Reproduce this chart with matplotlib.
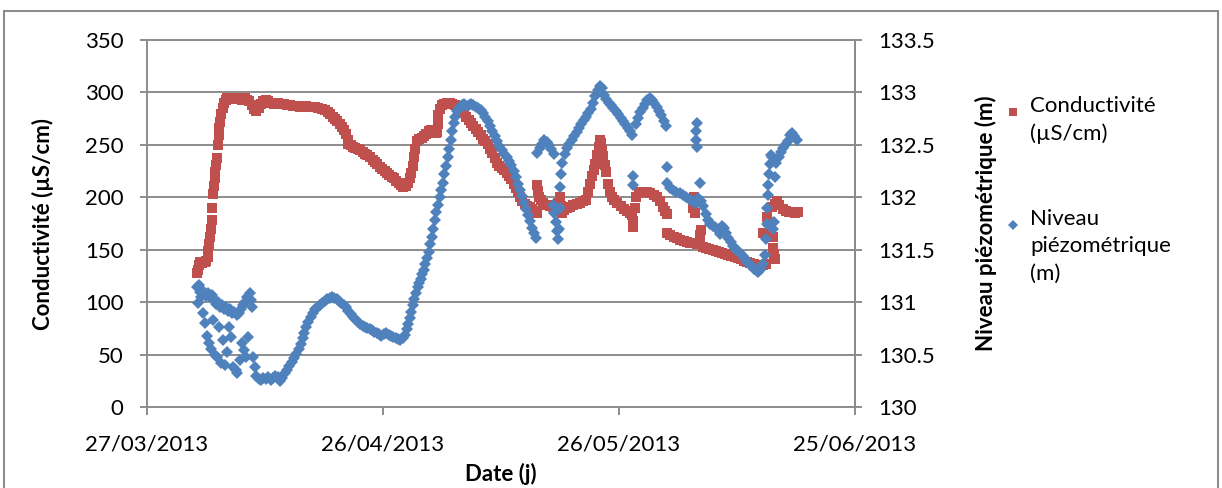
import numpy as np
import pandas as pd
import matplotlib
matplotlib.use("Agg")
import matplotlib.pyplot as plt
import matplotlib.dates as mdates
from matplotlib.lines import Line2D
from matplotlib.patches import Rectangle

plt.rcParams['font.family'] = ['Lato', 'DejaVu Sans']

# days since 27/03/2013
start = pd.Timestamp('2013-03-27')
tick_dates = ['2013-03-27', '2013-04-26', '2013-05-26', '2013-06-25']

# conductivity (uS/cm), left axis
cond_days = [
    6.4, 6.5, 6.6, 6.75, 6.95, 7.15, 7.35, 7.55, 7.7, 7.8,
    7.9, 8.0, 8.1, 8.2, 8.3, 8.4, 8.5, 8.6, 8.7, 8.8,
    8.9, 9.0, 9.1, 9.2, 9.3, 9.45, 9.6, 9.8, 10.0, 10.2,
    10.5, 10.8, 11.1, 11.4, 11.8, 12.1, 12.4, 12.7, 13.0, 13.3,
    13.6, 13.9, 14.2, 14.5, 14.8, 15.1, 15.4, 15.8, 16.2, 16.6,
    17.0, 17.4, 17.8, 18.2, 18.6, 19.0, 19.4, 19.8, 20.2, 20.6,
    21.0, 21.4, 21.8, 22.2, 22.6, 23.0, 23.3, 23.6, 23.9, 24.2,
    24.5, 24.8, 25.1, 25.35, 25.5, 25.6, 25.9, 26.2, 26.5, 26.8,
    27.1, 27.4, 27.7, 28.0, 28.3, 28.7, 29.0, 29.3, 29.6, 29.9,
    30.2, 30.5, 30.8, 31.1, 31.4, 31.7, 32.0, 32.3, 32.6, 32.9,
    33.2, 33.4, 33.6, 33.75, 33.9, 34.05, 34.3, 34.6, 34.9, 35.2,
    35.5, 35.8, 36.1, 36.4, 36.7, 36.85, 36.95, 37.05, 37.2, 37.45,
    37.8, 38.1, 38.5, 38.8, 39.1, 39.4, 39.7, 40.0, 40.3, 40.6,
    40.9, 41.2, 41.5, 41.8, 42.1, 42.4, 42.7, 43.0, 43.3, 43.6,
    43.9, 44.2, 44.5, 44.8, 45.1, 45.4, 45.7, 46.0, 46.3, 46.6,
    46.9, 47.1, 47.4, 47.7, 48.0, 48.3, 48.7, 49.0, 49.3, 49.6,
    49.6, 49.7, 49.85, 50.1, 50.4, 50.8, 51.2, 51.6, 52.0, 52.3,
    52.45, 52.6, 52.75, 53.0, 53.4, 53.8, 54.2, 54.6, 55.0, 55.4,
    55.8, 56.1, 56.3, 56.55, 56.8, 57.0, 57.2, 57.4, 57.55, 57.7,
    57.85, 58.0, 58.2, 58.4, 58.6, 58.8, 59.1, 59.4, 59.8, 60.2,
    60.6, 61.0, 61.4, 61.65, 61.75, 61.8, 62.0, 62.2, 62.5, 62.8,
    63.2, 63.6, 64.0, 64.4, 64.8, 65.2, 65.6, 65.9, 66.1, 66.1,
    66.5, 67.0, 67.4, 67.8, 68.2, 68.6, 69.0, 69.4, 69.5, 69.6,
    69.8, 69.9, 70.3, 70.35, 70.4, 70.7, 71.1, 71.5, 71.9, 72.3,
    72.7, 73.1, 73.5, 73.9, 74.3, 74.7, 75.1, 75.5, 75.9, 76.3,
    76.7, 77.1, 77.5, 77.9, 78.3, 78.7, 78.3, 78.8, 79.0, 79.3,
    79.6, 79.6, 79.7, 79.85, 79.5, 79.8, 80.1, 80.4, 80.8, 81.2,
    81.6, 82.0, 82.4, 82.7,
]
cond = [
    128, 131, 135, 138, 137, 138, 138, 139, 143, 149,
    155, 162, 170, 178, 190, 203, 211, 218, 224, 231,
    237, 250, 259, 266, 272, 279, 285, 290, 293, 295,
    294, 295, 294, 295, 294, 293, 295, 293, 292, 288,
    284, 282, 285, 289, 292, 293, 292, 290, 289, 290,
    289, 289, 288, 288, 287, 287, 286, 287, 287, 286,
    286, 286, 285, 284, 283, 281, 279, 277, 275, 273,
    270, 267, 264, 260, 255, 251, 250, 248, 247, 246,
    245, 243, 241, 240, 238, 236, 234, 232, 229, 227,
    225, 223, 221, 219, 218, 216, 214, 212, 210, 211,
    214, 218, 223, 230, 238, 246, 254, 256, 257, 258,
    260, 263, 264, 263, 261, 262, 270, 278, 284, 288,
    289, 290, 290, 289, 288, 286, 284, 282, 280, 277,
    274, 271, 268, 265, 262, 259, 256, 254, 251, 246,
    242, 237, 233, 230, 228, 226, 223, 220, 217, 213,
    209, 205, 200, 196, 194, 192, 191, 189, 187, 185,
    212, 206, 200, 197, 195, 193, 192, 191, 190, 195,
    200, 192, 185, 188, 190, 191, 193, 194, 195, 196,
    197, 205, 213, 220, 226, 232, 240, 248, 255, 252,
    245, 239, 231, 224, 213, 205, 200, 197, 195, 192,
    189, 187, 185, 183, 177, 172, 190, 200, 204, 205,
    205, 205, 204, 202, 200, 196, 191, 187, 184, 166,
    164, 162, 161, 159, 158, 157, 156, 190, 200, 185,
    196, 155, 158, 164, 169, 153, 152, 151, 150, 149,
    148, 147, 146, 145, 144, 143, 142, 141, 139, 138,
    137, 136, 134, 134, 135, 136, 166, 181, 176, 166,
    162, 152, 146, 141, 191, 194, 196, 193, 189, 187,
    186, 186, 185, 186,
]

# piezometric level (m), right axis
level_days = [
    6.4, 6.5, 6.6, 6.75, 6.9, 7.0, 7.1, 7.25, 7.4, 7.5,
    7.6, 7.7, 7.85, 8.0, 8.1, 8.25, 8.4, 8.5, 8.6, 8.75,
    8.9, 9.0, 9.1, 9.25, 9.4, 9.5, 9.65, 9.8, 9.9, 10.0,
    10.15, 10.3, 10.4, 10.55, 10.7, 10.85, 10.95, 11.1, 11.25, 11.4,
    11.5, 11.65, 11.8, 11.95, 12.05, 12.2, 12.3, 12.45, 12.6, 12.75,
    12.9, 13.05, 13.2, 13.35,
    13.5, 13.7, 13.9, 14.2, 14.5, 14.8, 15.1, 15.4, 15.7, 16.0,
    16.3, 16.6, 16.9, 17.2, 17.5, 17.8, 18.1, 18.4, 18.7, 19.0,
    19.3, 19.55, 19.8, 20.0, 20.25, 20.5, 20.8, 21.1, 21.4, 21.7,
    22.0, 22.3, 22.6, 22.9, 23.2, 23.5, 23.8, 24.1, 24.4, 24.7,
    25.0, 25.3, 25.6, 25.9, 26.2, 26.5, 26.8, 27.1, 27.4, 27.7,
    28.0, 28.3, 28.6, 28.9, 29.2, 29.5, 29.8, 30.1, 30.4, 30.7,
    31.0, 31.3, 31.6, 31.9, 32.2, 32.5, 32.8, 33.0, 33.2, 33.4,
    33.6, 33.8, 34.0, 34.2, 34.4, 34.6, 34.8, 35.0, 35.2, 35.4,
    35.6, 35.8, 36.0, 36.2, 36.4, 36.6, 36.8, 37.0, 37.2, 37.4,
    37.6, 37.8, 38.0, 38.2, 38.4, 38.6, 38.8, 39.0, 39.2, 39.45,
    39.7, 40.0, 40.3, 40.6, 40.9, 41.2, 41.5, 41.8, 42.1, 42.4,
    42.7, 43.0, 43.3, 43.6, 43.9, 44.2, 44.5, 44.8, 45.1, 45.4,
    45.7, 46.0, 46.3, 46.6, 46.9, 47.2, 47.45, 47.7, 47.95, 48.2,
    48.45, 48.7, 48.95, 49.2, 49.4,
    49.6, 49.9, 50.2, 50.5, 50.8, 51.1, 51.4, 51.7, 51.6, 51.8,
    52.0, 52.15, 52.3, 52.4, 52.45, 52.5, 52.6, 52.8, 53.1, 53.4,
    53.7, 54.0, 54.3, 54.6, 54.9, 55.2, 55.5, 55.8, 56.1, 56.4,
    56.7, 57.0, 57.3, 57.6, 57.8, 58.1, 58.4, 58.7, 59.0, 59.3,
    59.6, 59.9, 60.2, 60.5, 60.8, 61.1, 61.4, 61.7, 61.75, 61.8,
    62.1, 62.4, 62.7, 63.0, 63.3, 63.6, 63.9, 64.2, 64.5, 64.8,
    65.1, 65.4, 65.7, 66.0, 66.1,
    66.1, 66.5, 66.9, 67.3, 67.7, 68.1, 68.5, 68.9, 69.3, 69.6,
    69.8, 69.85, 69.9, 69.9, 70.0, 70.3, 70.4, 70.7, 71.0, 71.3,
    71.6, 71.9, 72.2, 72.5, 72.8, 73.1, 73.3, 73.6, 73.9, 74.2,
    74.5, 74.8, 75.1, 75.4, 75.7, 76.0, 76.3, 76.6, 76.9, 77.2,
    77.5, 77.7, 78.0, 78.3, 78.6,
    78.7, 78.75, 78.8, 78.9, 79.0, 79.1, 79.2, 79.35, 79.5, 79.6,
    79.65, 79.8, 80.0, 80.3, 80.6, 80.9, 81.2, 81.5, 81.8, 82.0,
    82.3, 82.6,
]
level = [
    131.14, 130.99, 131.16, 131.10, 131.05, 131.12, 130.90, 131.08, 130.80, 131.06,
    130.68, 131.09, 130.61, 131.05, 130.55, 131.07, 130.83, 131.03, 130.50, 130.98,
    130.48, 131.00, 130.76, 130.95, 130.42, 130.97, 130.64, 130.93, 130.40, 130.95,
    130.52, 130.92, 130.76, 130.93, 130.67, 130.90, 130.38, 130.91, 130.35, 130.88,
    130.32, 130.90, 130.45, 130.93, 130.61, 130.97, 130.54, 131.00, 130.48, 131.05,
    130.67, 131.09, 131.02, 130.95,
    130.48, 130.38, 130.30, 130.27, 130.26, 130.28, 130.27, 130.29, 130.26, 130.28,
    130.30, 130.29, 130.25, 130.28, 130.32, 130.35, 130.39, 130.43, 130.47, 130.51,
    130.55, 130.60, 130.66, 130.71, 130.76, 130.81, 130.86, 130.90, 130.93, 130.95,
    130.97, 130.99, 131.01, 131.03, 131.04, 131.05, 131.04, 131.03, 131.01, 130.99,
    130.97, 130.95, 130.92, 130.89, 130.86, 130.84, 130.81, 130.79, 130.77, 130.76,
    130.75, 130.74, 130.73, 130.72, 130.71, 130.70, 130.68, 130.70, 130.71, 130.69,
    130.68, 130.67, 130.66, 130.65, 130.64, 130.66, 130.69, 130.74, 130.79, 130.85,
    130.91, 130.97, 131.03, 131.09, 131.14, 131.18, 131.22, 131.27, 131.31, 131.36,
    131.42, 131.48, 131.55, 131.62, 131.70, 131.78, 131.86, 131.93, 132.00, 132.07,
    132.14, 132.22, 132.30, 132.38, 132.46, 132.55, 132.63, 132.71, 132.77, 132.82,
    132.85, 132.88, 132.89, 132.87, 132.88, 132.89, 132.88, 132.86, 132.85, 132.83,
    132.80, 132.77, 132.73, 132.68, 132.63, 132.58, 132.54, 132.49, 132.45, 132.41,
    132.38, 132.35, 132.31, 132.25, 132.19, 132.13, 132.07, 132.01, 131.95, 131.89,
    131.83, 131.77, 131.71, 131.66, 131.61,
    132.42, 132.47, 132.51, 132.55, 132.53, 132.50, 132.46, 132.41, 131.93, 131.85,
    131.76, 131.68, 131.60, 131.70, 131.90, 132.10, 132.22, 132.33, 132.41, 132.47,
    132.51, 132.55, 132.58, 132.62, 132.66, 132.70, 132.74, 132.77, 132.80, 132.84,
    132.90, 132.97, 133.02, 133.06, 133.04, 132.98, 132.94, 132.90, 132.88, 132.85,
    132.82, 132.79, 132.76, 132.73, 132.70, 132.66, 132.63, 132.59, 132.20, 132.12,
    132.70, 132.76, 132.81, 132.85, 132.89, 132.93, 132.95, 132.93, 132.90, 132.86,
    132.82, 132.78, 132.73, 132.68, 132.29,
    132.14, 132.09, 132.07, 132.05, 132.04, 132.02, 132.00, 131.98, 131.96, 131.95,
    132.55, 132.63, 132.71, 132.48, 131.99, 132.14, 131.96, 131.92, 131.84, 131.78,
    131.75, 131.73, 131.72, 131.70, 131.65, 131.73, 131.71, 131.66, 131.61, 131.57,
    131.54, 131.51, 131.49, 131.47, 131.44, 131.41, 131.38, 131.35, 131.34, 131.32,
    131.30, 131.29, 131.32, 131.36, 131.45,
    131.60, 131.75, 131.90, 132.02, 132.12, 132.22, 132.32, 132.40, 132.38, 131.70,
    131.76, 132.19, 132.33, 132.38, 132.43, 132.47, 132.51, 132.54, 132.59, 132.61,
    132.58, 132.55,
]

RED = '#C0504D'
BLUE = '#4F81BD'
GRID = '#8C8C8C'

cond_dates = start + pd.to_timedelta(cond_days, unit='D')
level_dates = start + pd.to_timedelta(level_days, unit='D')

fig = plt.figure(figsize=(12.22, 4.88), dpi=100)
ax = fig.add_axes([147 / 1222, 1 - 407 / 488, 708 / 1222, 367 / 488])
ax2 = ax.twinx()

ax.plot(cond_dates, cond, 's', color=RED, ms=6.5, mew=0)
ax2.plot(level_dates, level, 'D', color=BLUE, ms=6, mew=0)

ax.set_ylim(0, 350)
ax.set_yticks(np.arange(0, 351, 50))
ax2.set_ylim(130, 133.5)
ax2.set_yticks(np.arange(130, 133.51, 0.5))
ax2.yaxis.set_major_formatter(plt.FuncFormatter(lambda v, p: f'{v:g}'))

xt = pd.to_datetime(tick_dates)
ax.set_xlim(xt[0], xt[-1])
ax.set_xticks(xt)
ax.xaxis.set_major_formatter(mdates.DateFormatter('%d/%m/%Y'))

ax.yaxis.grid(True, color=GRID, lw=1.4)
ax.set_axisbelow(True)
for s in ax.spines.values():
    s.set_color(GRID)
    s.set_linewidth(1.4)
for s in ax2.spines.values():
    s.set_visible(False)
ax2.spines['right'].set_visible(True)
ax2.spines['right'].set_color(GRID)
ax2.spines['right'].set_linewidth(1.4)

ax.tick_params(axis='x', direction='out', length=6, width=1.4, color=GRID, labelsize=16, pad=14)
ax.tick_params(axis='y', direction='out', length=5, width=1.4, color=GRID, labelsize=16, pad=12)
ax2.tick_params(axis='y', direction='out', length=5, width=1.4, color=GRID, labelsize=16, pad=12)

ax.set_ylabel('Conductivité (µS/cm)', fontsize=16, fontweight='bold')
ax.yaxis.set_label_coords(-0.131, 0.5)
ax2.set_ylabel('Niveau piézométrique (m)', fontsize=16, fontweight='bold')
ax2.yaxis.set_label_coords(1.17, 0.5)
ax.set_xlabel('Date (j)', fontsize=16, fontweight='bold', labelpad=6)

# legend, drawn by hand so the keys sit on the first text line
fig.add_artist(Line2D([1013 / 1222], [1 - 112 / 488], marker='s', color=RED, ms=5.5, mew=0,
                      transform=fig.transFigure))
fig.add_artist(Line2D([1013 / 1222], [1 - 225 / 488], marker='D', color=BLUE, ms=5, mew=0,
                      transform=fig.transFigure))
fig.text(1030 / 1222, 1 - 96 / 488, 'Conductivité\n(µS/cm)', fontsize=16, va='top',
         ha='left', linespacing=1.45)
fig.text(1030 / 1222, 1 - 209 / 488, 'Niveau\npiézométrique\n(m)', fontsize=16, va='top',
         ha='left', linespacing=1.45)

# outer chart frame
fig.add_artist(Rectangle((4 / 1222, -0.05), 1214 / 1222, 1.05 - 10.5 / 488, fill=False,
                         edgecolor=GRID, lw=1.5, transform=fig.transFigure))

fig.savefig('out.png', dpi=100)
